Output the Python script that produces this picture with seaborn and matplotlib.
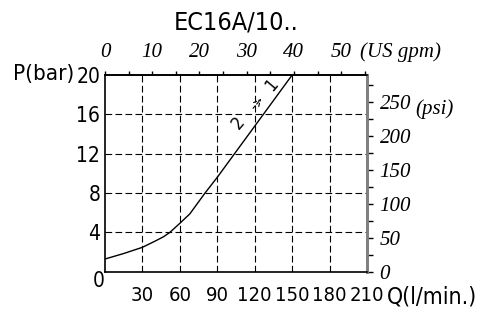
import matplotlib
matplotlib.use("Agg")
import matplotlib.pyplot as plt
import seaborn as sns
import pandas as pd
from matplotlib.ticker import MultipleLocator

# ---- data ----
flow_lpm = [0, 15, 30, 40, 47, 52, 60, 68, 80, 90, 105, 120, 135, 150]
pressure_bar = [1.29, 1.85, 2.48, 3.1, 3.56, 4.0, 4.92, 5.88, 7.97, 9.6, 12.2, 14.8, 17.4, 20.0]
x_ticks = [30, 60, 90, 120, 150, 180, 210]
y_ticks = [4, 8, 12, 16, 20]
gpm_ticks = [0, 10, 20, 30, 40, 50]
psi_ticks = [0, 50, 100, 150, 200, 250]
title = "EC16A/10.."
LPM_PER_GPM = 3.785
PSI_PER_BAR = 14.5038

W, H = 484, 311

sns.set_theme(style="white")
sans = ['DejaVu Sans']
serif = ['Liberation Serif', 'DejaVu Serif']
plt.rcParams['font.family'] = sans
plt.rcParams['font.stretch'] = 'condensed'

fig = plt.figure(figsize=(W / 100, H / 100), dpi=100)
ax = fig.add_axes([105 / W, 1 - 271.7 / H, (367 - 105) / W, (271.7 - 75) / H])

df = pd.DataFrame({"Q": flow_lpm, "P": pressure_bar})

# grid (dashed), skipping the edges
for v in x_ticks[:-1]:
    ax.axvline(v, color="black", lw=0.8, linestyle=(0, (6, 3)), zorder=1)
for v in y_ticks[:-1]:
    ax.axhline(v, color="black", lw=0.8, linestyle=(0, (6, 3)), zorder=1)

sns.lineplot(data=df, x="Q", y="P", ax=ax, color="black", lw=1.0, zorder=3)

ax.set_xlim(0, 210)
ax.set_ylim(0, 20)
ax.set_xticks(x_ticks)
ax.set_yticks(y_ticks)
ax.set_xlabel("")
ax.set_ylabel("")
ax.tick_params(axis="x", length=0, pad=10.5, labelsize=14.5, colors="black")
ax.tick_params(axis="y", length=0, pad=3.5, labelsize=15, colors="black")

for s in ["left", "bottom", "top"]:
    ax.spines[s].set_color("black")
    ax.spines[s].set_linewidth(1.2)
ax.spines["right"].set_color("#808080")
ax.spines["right"].set_linewidth(2)

# top axis: US gpm
sec_x = ax.secondary_xaxis('top', functions=(lambda q: q / LPM_PER_GPM, lambda g: g * LPM_PER_GPM))
sec_x.set_xticks(gpm_ticks, labels=[str(g) for g in gpm_ticks], fontfamily=serif, fontstyle='italic', fontsize=15)
sec_x.xaxis.set_minor_locator(MultipleLocator(5))
sec_x.tick_params(which='both', direction='out', length=3, width=1, pad=6, colors='black')
sec_x.spines['top'].set_color('black')
sec_x.spines['top'].set_linewidth(1.2)

# right axis: psi
sec_y = ax.secondary_yaxis('right', functions=(lambda p: p * PSI_PER_BAR, lambda s: s / PSI_PER_BAR))
sec_y.set_yticks(psi_ticks, labels=[str(p) for p in psi_ticks], fontfamily=serif, fontstyle='italic', fontsize=15)
sec_y.yaxis.set_minor_locator(MultipleLocator(25))
sec_y.tick_params(which='both', direction='out', length=4, width=1, pad=5, colors='black')
sec_y.spines['right'].set_color('#808080')
sec_y.spines['right'].set_linewidth(2)

# extra texts
def px(x, y):
    return x / W, 1 - y / H

fig.text(*px(236, 22), title, ha="center", va="center", fontsize=18, color="black")
fig.text(*px(44, 74), "P(bar)", ha="center", va="center", fontsize=16, color="black")
fig.text(*px(98.5, 281), "0", ha="center", va="center", fontsize=15, color="black")
fig.text(*px(432, 297), "Q(l/min.)", ha="center", va="center", fontsize=16.5, color="black")
fig.text(*px(400, 52), "(US gpm)", ha="center", va="center", fontsize=15,
         fontfamily=serif, fontstyle="italic", color="black")
fig.text(*px(434, 109), "(psi)", ha="center", va="center", fontsize=15,
         fontfamily=serif, fontstyle="italic", color="black")

# curve markers "2 -> 1"
label_from, label_to = "2", "1"
ax.text(106.7, 15.1, label_from, rotation=50, ha="center", va="center", fontsize=13, color="black")
ax.text(133.7, 19.0, label_to, rotation=50, ha="center", va="center", fontsize=13, color="black")
ax.annotate("", xy=(126.7, 17.8), xytext=(117.2, 16.4),
            arrowprops=dict(arrowstyle="->", color="black", lw=0.8, linestyle=(0, (3, 2))))

fig.savefig("out.png", dpi=100)
